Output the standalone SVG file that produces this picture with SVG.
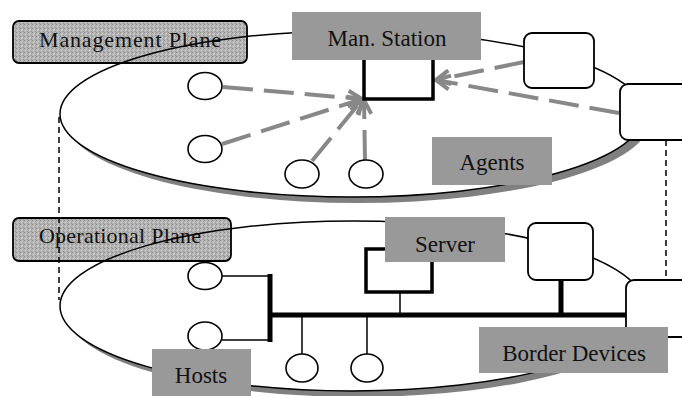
<svg xmlns="http://www.w3.org/2000/svg" width="682" height="396" viewBox="0 0 682 396">
<style>
.shadow{fill:#808080;stroke:none}
.efill{fill:#fff;stroke:none}
.eline{fill:none;stroke:#000;stroke-width:1.5}
.plane{fill:url(#stip);stroke:#000;stroke-width:1.8}
.ptxt{font-family:"Liberation Serif",serif;font-size:22px;fill:#111;text-anchor:middle}
.lab{fill:#999;stroke:none}
.ltxt{font-family:"Liberation Serif",serif;font-size:23px;fill:#111;text-anchor:middle}
.circ{fill:#fff;stroke:#000;stroke-width:1.6}
.dev{fill:#fff;stroke:#000;stroke-width:1.8}
.thick{fill:none;stroke:#000;stroke-width:3.5}
.thin{fill:none;stroke:#000;stroke-width:1.5}
.bus{fill:none;stroke:#000;stroke-width:5}
.dash{fill:none;stroke:#888;stroke-width:4;stroke-dasharray:30 11;marker-end:url(#ah)}
.vdash{fill:none;stroke:#000;stroke-width:1.5;stroke-dasharray:6 4}
</style>
<defs>
<pattern id="stip" width="4" height="4" patternUnits="userSpaceOnUse">
<rect width="4" height="4" fill="#b4b4b4"/>
<rect x="0" y="0" width="1" height="1" fill="#8c8c8c"/>
<rect x="2" y="1" width="1" height="1" fill="#d6d6d6"/>
<rect x="1" y="2" width="1" height="1" fill="#d0d0d0"/>
<rect x="3" y="3" width="1" height="1" fill="#929292"/>
<rect x="3" y="1" width="1" height="1" fill="#9a9a9a"/>
</pattern>
<marker id="ah" markerUnits="userSpaceOnUse" markerWidth="20" markerHeight="20" viewBox="0 0 20 20" refX="18" refY="10" orient="auto">
<path d="M4,3 L18,10 L4,17" fill="none" stroke="#888" stroke-width="4" stroke-dasharray="none"/>
</marker>
</defs>

<g id="management-plane">
<ellipse class="shadow" cx="358" cy="120" rx="292" ry="83"/>
<ellipse class="efill" cx="352" cy="114" rx="292" ry="83"/>
<g id="label-management-plane">
<rect class="plane" x="13" y="21" width="234" height="42" rx="6"/>
<text class="ptxt" x="130" y="47" textLength="182" lengthAdjust="spacing">Management Plane</text>
</g>
<ellipse class="eline" cx="352" cy="114" rx="292" ry="83"/>
</g>

<g id="operational-plane">
<ellipse class="shadow" cx="358" cy="312" rx="292" ry="85"/>
<ellipse class="efill" cx="352" cy="306" rx="292" ry="85"/>
<g id="label-operational-plane">
<rect class="plane" x="13" y="218" width="218" height="43" rx="6"/>
<text class="ptxt" x="120" y="243" textLength="162" lengthAdjust="spacing">Operational Plane</text>
</g>
<ellipse class="eline" cx="352" cy="306" rx="292" ry="85"/>
</g>

<g id="connectors">
<line class="vdash" x1="59" y1="117" x2="59" y2="300"/>
<line class="vdash" x1="666" y1="140" x2="666" y2="280"/>
<line class="dash" x1="223" y1="87" x2="362" y2="99"/>
<line class="dash" x1="222" y1="144" x2="362" y2="99"/>
<line class="dash" x1="312" y1="161" x2="362" y2="100"/>
<line class="dash" x1="365" y1="160" x2="364" y2="100"/>
<line class="dash" x1="524" y1="62" x2="436" y2="80"/>
<line class="dash" x1="619" y1="113" x2="436" y2="80"/>
<polyline class="thin" points="222,276 270,276"/>
<polyline class="thin" points="222,340 270,340"/>
<line class="bus" x1="270" y1="274" x2="270" y2="342"/>
<line class="bus" x1="270" y1="315" x2="627" y2="315"/>
<line class="thin" x1="400" y1="292" x2="400" y2="315"/>
<line class="bus" x1="561" y1="280" x2="561" y2="315"/>
<line class="thin" x1="302" y1="315" x2="302" y2="354"/>
<line class="thin" x1="367" y1="315" x2="367" y2="354"/>
</g>

<g id="station-node"><polyline class="thick" points="364,55 364,99 433,99 433,55"/></g>
<g id="man-station"><rect class="lab" x="292" y="12" width="189" height="48"/><text class="ltxt" x="387" y="46">Man. Station</text></g>
<g id="agent-1"><ellipse class="circ" cx="205" cy="86" rx="17" ry="13.5"/></g>
<g id="agent-2"><ellipse class="circ" cx="205" cy="149" rx="17" ry="13.5"/></g>
<g id="agent-3"><ellipse class="circ" cx="302" cy="174" rx="17" ry="14"/></g>
<g id="agent-4"><ellipse class="circ" cx="366" cy="174" rx="17" ry="14"/></g>
<g id="agent-device-1"><rect class="dev" x="524" y="33" width="70" height="55" rx="8"/></g>
<g id="agent-device-2"><rect class="dev" x="620" y="84" width="80" height="56" rx="8"/></g>
<g id="agents"><rect class="lab" x="432" y="137" width="120" height="48"/><text class="ltxt" x="492" y="170">Agents</text></g>

<g id="server-node"><rect class="thick" x="366" y="249" width="66" height="43"/></g>
<g id="server"><rect class="lab" x="385" y="217" width="120" height="45"/><text class="ltxt" x="445" y="252">Server</text></g>
<g id="host-1"><ellipse class="circ" cx="205" cy="276" rx="17" ry="13.5"/></g>
<g id="host-2"><ellipse class="circ" cx="205" cy="336" rx="17" ry="14"/></g>
<g id="host-3"><ellipse class="circ" cx="302" cy="368" rx="16" ry="14"/></g>
<g id="host-4"><ellipse class="circ" cx="367" cy="368" rx="16" ry="14"/></g>
<g id="border-device-1"><rect class="dev" x="528" y="223" width="65" height="57" rx="8"/></g>
<g id="border-device-2"><rect class="dev" x="626" y="280" width="80" height="57" rx="8"/></g>
<g id="border-devices"><rect class="lab" x="479" y="327" width="189" height="46"/><text class="ltxt" x="574" y="361">Border Devices</text></g>
<g id="hosts"><rect class="lab" x="152" y="349" width="99" height="50"/><text class="ltxt" x="201" y="383">Hosts</text></g>
</svg>
